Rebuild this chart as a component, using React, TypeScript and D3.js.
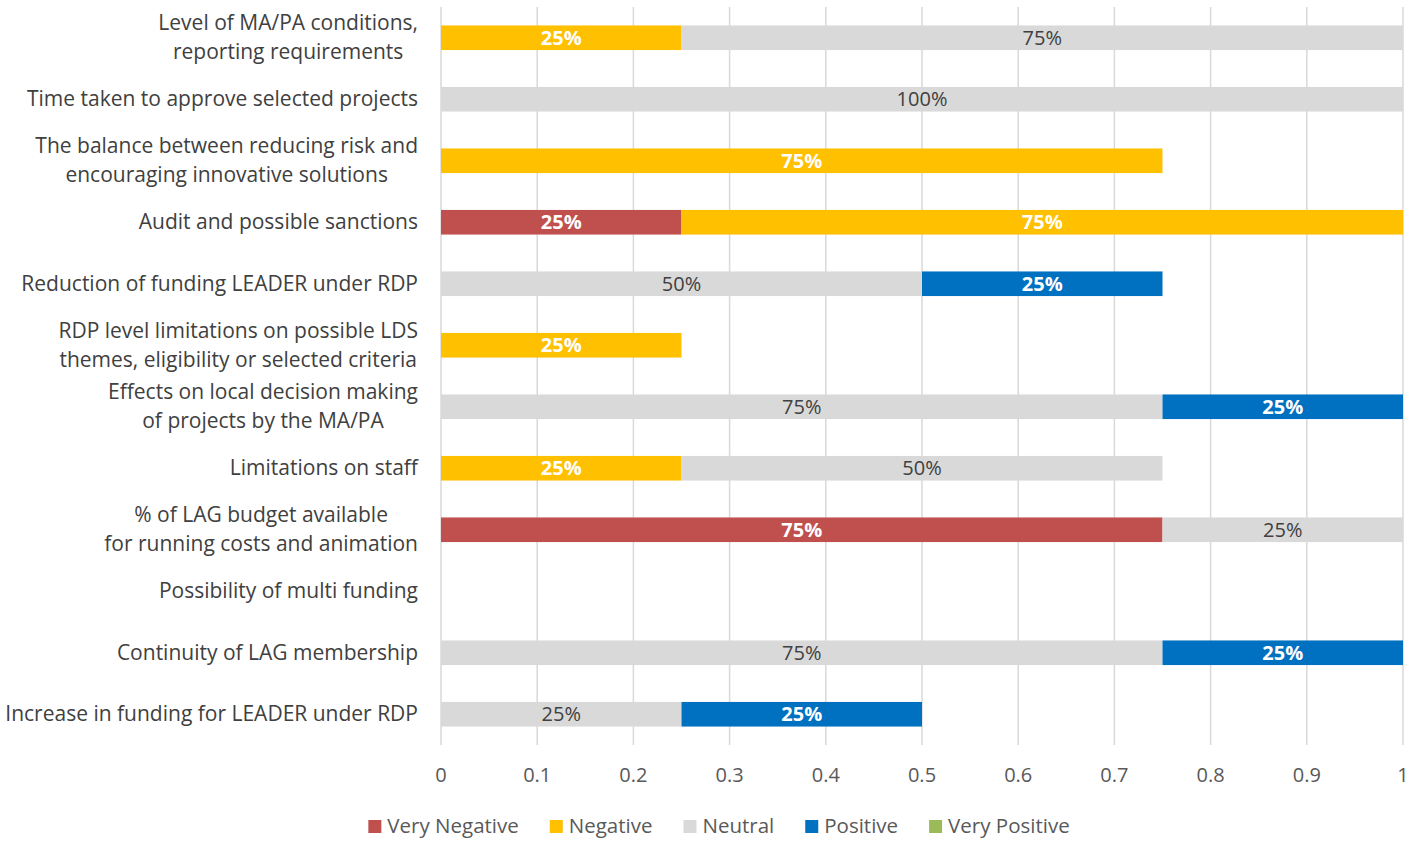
import React, { useEffect, useRef } from "react";
import * as d3 from "d3";

const categories: string[][] = [
  ["Level of MA/PA conditions,", "reporting requirements"],
  ["Time taken to approve selected projects"],
  ["The balance between reducing risk and", "encouraging innovative solutions"],
  ["Audit and possible sanctions"],
  ["Reduction of funding LEADER under RDP"],
  ["RDP level limitations on possible LDS", "themes, eligibility or selected criteria"],
  ["Effects on local decision making", "of projects by the MA/PA"],
  ["Limitations on staff"],
  ["% of LAG budget available", "for running costs and animation"],
  ["Possibility of multi funding"],
  ["Continuity of LAG membership"],
  ["Increase in funding for LEADER under RDP"],
];

const seriesNames = ["Very Negative", "Negative", "Neutral", "Positive", "Very Positive"];
const seriesColors = ["#C0504D", "#FFC000", "#D9D9D9", "#0070C0", "#9BBB59"];
const labelColors = ["#FFFFFF", "#FFFFFF", "#404040", "#FFFFFF", "#FFFFFF"];
const labelWeights = ["bold", "bold", "normal", "bold", "bold"];

const veryNegative = [0, 0, 0, 0.25, 0, 0, 0, 0, 0.75, 0, 0, 0];
const negative = [0.25, 0, 0.75, 0.75, 0, 0.25, 0, 0.25, 0, 0, 0, 0];
const neutral = [0.75, 1, 0, 0, 0.5, 0, 0.75, 0.5, 0.25, 0, 0.75, 0.25];
const positive = [0, 0, 0, 0, 0.25, 0, 0.25, 0, 0, 0, 0.25, 0.25];
const veryPositive = [0, 0, 0, 0, 0, 0, 0, 0, 0, 0, 0, 0];

const xTicks = [0, 0.1, 0.2, 0.3, 0.4, 0.5, 0.6, 0.7, 0.8, 0.9, 1];

const FONT = "'Open Sans', Lato, sans-serif";
const FS = 21;

export default function App() {
  const ref = useRef<SVGSVGElement>(null);

  useEffect(() => {
    const svg = d3.select(ref.current);
    svg.selectAll("*").remove();

    const x = d3.scaleLinear().domain([0, 1]).range([441, 1403]);
    const y = d3
      .scaleBand<number>()
      .domain(d3.range(categories.length))
      .range([7, 745])
      .paddingInner(0.6)
      .paddingOuter(0.3);

    // gridlines
    svg
      .append("g")
      .selectAll("line")
      .data(xTicks)
      .join("line")
      .attr("x1", (d) => x(d))
      .attr("x2", (d) => x(d))
      .attr("y1", 7)
      .attr("y2", 745)
      .attr("stroke", "#D9D9D9")
      .attr("stroke-width", 1.5);

    const all = [veryNegative, negative, neutral, positive, veryPositive];
    const rows = categories.map((_, i) => {
      const o: any = { i };
      seriesNames.forEach((s, k) => (o[s] = all[k][i]));
      return o;
    });
    const stacked = d3.stack<any>().keys(seriesNames)(rows);

    stacked.forEach((layer, k) => {
      const g = svg.append("g");
      layer.forEach((seg, i) => {
        const w = x(seg[1]) - x(seg[0]);
        if (w <= 0) return;
        g.append("rect")
          .attr("x", x(seg[0]))
          .attr("y", y(i)!)
          .attr("width", w)
          .attr("height", y.bandwidth())
          .attr("fill", seriesColors[k]);
        g.append("text")
          .attr("x", (x(seg[0]) + x(seg[1])) / 2)
          .attr("y", y(i)! + y.bandwidth() / 2)
          .attr("dy", "0.36em")
          .attr("text-anchor", "middle")
          .attr("font-family", FONT)
          .attr("font-size", FS - 1)
          .attr("font-weight", labelWeights[k])
          .attr("fill", labelColors[k])
          .text(d3.format(".0%")(all[k][i]));
      });
    });

    // category labels
    const catG = svg.append("g");
    categories.forEach((lines, i) => {
      const cy = y(i)! + y.bandwidth() / 2;
      const texts = lines.map((l, j) =>
        catG
          .append("text")
          .attr("y", cy + (j - (lines.length - 1) / 2) * 29 - 0.5)
          .attr("dy", "0.36em")
          .attr("text-anchor", "middle")
          .attr("font-family", FONT)
          .attr("font-size", FS)
          .attr("fill", "#404040")
          .text(l)
      );
      const maxW = d3.max(texts, (t) => (t.node() as SVGTextElement).getComputedTextLength()) || 0;
      texts.forEach((t) => t.attr("x", 418 - maxW / 2));
    });

    // x axis labels
    svg
      .append("g")
      .selectAll("text")
      .data(xTicks)
      .join("text")
      .attr("x", (d) => x(d))
      .attr("y", 775)
      .attr("dy", "0.36em")
      .attr("text-anchor", "middle")
      .attr("font-family", FONT)
      .attr("font-size", FS - 1)
      .attr("fill", "#595959")
      .text((d) => String(d));

    // legend
    const lg = svg.append("g");
    const items: { g: any; w: number }[] = [];
    seriesNames.forEach((name, k) => {
      const g = lg.append("g");
      g.append("rect").attr("x", 0).attr("y", -6).attr("width", 13).attr("height", 13).attr("fill", seriesColors[k]);
      const t = g
        .append("text")
        .attr("x", 19)
        .attr("y", 0)
        .attr("dy", "0.36em")
        .attr("font-family", FONT)
        .attr("font-size", FS - 0.5)
        .attr("fill", "#595959")
        .text(name);
      const w = 19 + (t.node() as SVGTextElement).getComputedTextLength();
      items.push({ g, w });
    });
    const gap = 31;
    const total = d3.sum(items, (d) => d.w) + gap * (items.length - 1);
    let cx = 719 - total / 2;
    items.forEach((it) => {
      it.g.attr("transform", `translate(${cx},826)`);
      cx += it.w + gap;
    });
  }, []);

  return (
    <svg
      ref={ref}
      width={1421}
      height={841}
      style={{ position: "absolute", left: 0, top: 0, background: "#fff" }}
    />
  );
}
